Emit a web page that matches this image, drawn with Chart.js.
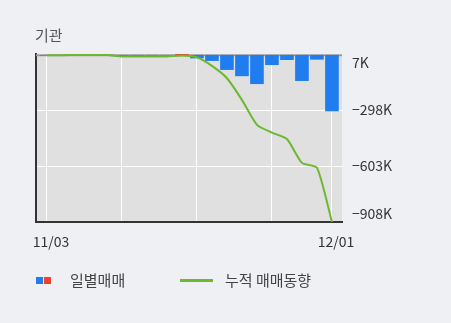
<!DOCTYPE html>
<html>
<head>
<meta charset="utf-8">
<script src="https://cdn.jsdelivr.net/npm/chart.js@4"></script>
<style>
    html, body { margin: 0; padding: 0; background: #eef0f4; }
    #wrap { position: relative; width: 451px; height: 323px; font-family: "Noto Sans CJK KR", "Noto Sans", sans-serif; }
    #title { position: absolute; left: 35px; top: 24px; font-size: 15px; color: #555; }
    .lg { position: absolute; top: 270px; font-size: 15px; color: #444; line-height: 20px; }
    .sw { position: absolute; }
</style>
</head>
<body>
<div id="wrap">
    <canvas id="chart" width="451" height="323"></canvas>
    <div id="title">기관</div>
    <div class="sw" style="left:36px;top:277px;width:7px;height:7px;background:#1f7df0"></div>
    <div class="sw" style="left:44px;top:277px;width:7px;height:7px;background:#f0412a"></div>
    <div class="lg" style="left:70px">일별매매</div>
    <div class="sw" style="left:180px;top:279px;width:33px;height:3px;background:#6cb830"></div>
    <div class="lg" style="left:225px">누적 매매동향</div>
</div>
<script>
    // values in thousands (K)
    const dates = ['11/03', '11/04', '11/05', '11/06', '11/07', '11/10', '11/11', '11/12', '11/13', '11/14',
                   '11/17', '11/18', '11/19', '11/20', '11/21', '11/24', '11/25', '11/26', '11/27', '12/01'];
    const dailyNet = [0, 0, 7, 0, 0, -7, -1, 0, 0, 6, -15, -29, -78, -112, -155, -51, -24, -138, -22, -303];
    const cumNet = [0, 0, 2, 2, 2, -6, -7, -7, -7, -1, -11, -58, -125, -243, -379, -421, -456, -586, -612, -908];
    const yTicks = [7, -298, -603, -908];
    const xGridAt = [0, 5, 10, 15, 19];

    const fmtK = v => (v < 0 ? '\u2212' + Math.abs(v) : v) + 'K';

    const plotBg = {
        id: 'plotBg',
        beforeDraw(chart) {
            const { ctx, chartArea: a } = chart;
            ctx.save();
            ctx.fillStyle = '#e0e0e0';
            ctx.fillRect(a.left, a.top, a.right - a.left, a.bottom - a.top);
            ctx.restore();
        },
        beforeDatasetsDraw(chart) {
            const { ctx, chartArea: a } = chart;
            const y0 = chart.scales.y.getPixelForValue(0);
            ctx.save();
            ctx.strokeStyle = '#9a9a9a';
            ctx.lineWidth = 2;
            ctx.beginPath();
            ctx.moveTo(a.left, y0);
            ctx.lineTo(a.right, y0);
            ctx.stroke();
            ctx.restore();
        }
    };

    const ctx = document.getElementById('chart').getContext('2d');

    new Chart(ctx, {
        type: 'bar',
        data: {
            datasets: [
                {
                    type: 'line',
                    label: '누적 매매동향',
                    data: cumNet.map((v, i) => ({ x: i, y: v })),
                    borderColor: '#6cb830',
                    borderWidth: 2,
                    pointRadius: 0,
                    tension: 0.2,
                    order: 1
                },
                {
                    type: 'bar',
                    label: '일별매매',
                    data: dailyNet.map((v, i) => ({ x: i, y: v })),
                    backgroundColor: dailyNet.map(v => v >= 0 ? '#f0412a' : '#1f7df0'),
                    barThickness: 13,
                    order: 2
                }
            ]
        },
        options: {
            responsive: false,
            animation: false,
            layout: { padding: { top: 54, left: 36, right: 0, bottom: 71 } },
            scales: {
                x: {
                    type: 'linear',
                    offset: false,
                    min: -0.73,
                    max: 19.67,
                    afterBuildTicks: s => { s.ticks = xGridAt.map(v => ({ value: v })); },
                    afterFit: s => { s.height = 30; },
                    grid: { color: '#ffffff', drawTicks: false, offset: false },
                    border: { display: true, color: '#333', width: 2 },
                    ticks: {
                        padding: 11,
                        labelOffset: 4,
                        maxRotation: 0,
                        autoSkip: false,
                        color: '#333',
                        font: { size: 14, family: '"Noto Sans CJK KR", sans-serif' },
                        callback: v => (v === 0 || v === dates.length - 1) ? dates[v] : ''
                    }
                },
                y: {
                    position: 'right',
                    min: -908,
                    max: 7,
                    afterBuildTicks: s => { s.ticks = yTicks.map(v => ({ value: v })); },
                    afterFit: s => { s.width = 109; },
                    grid: { color: '#ffffff', drawTicks: false },
                    border: { display: false },
                    ticks: {
                        padding: 10,
                        color: '#333',
                        font: { size: 14, family: '"Noto Sans CJK KR", sans-serif' },
                        callback: v => {
                            const t = fmtK(v);
                            if (v === yTicks[0]) return ['', t];
                            if (v === yTicks[yTicks.length - 1]) return [t, ''];
                            return t;
                        }
                    }
                },
                yl: {
                    position: 'left',
                    afterFit: s => { s.width = 0; },
                    grid: { display: false },
                    ticks: { display: false },
                    border: { display: true, color: '#333', width: 2 }
                }
            },
            plugins: {
                legend: { display: false },
                tooltip: { enabled: false }
            }
        },
        plugins: [plotBg]
    });
</script>
</body>
</html>
